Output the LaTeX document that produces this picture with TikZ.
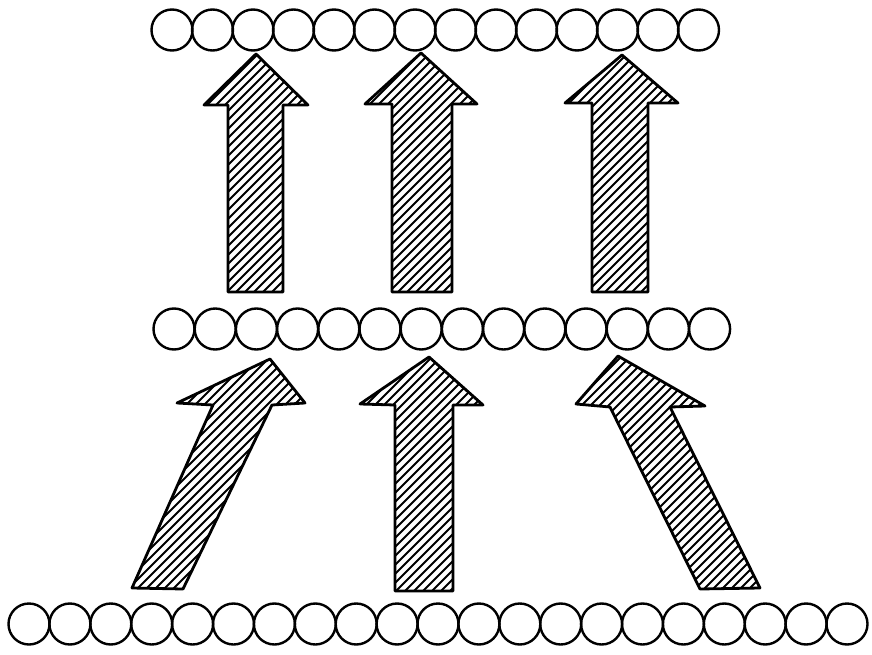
\documentclass[tikz,border=0pt]{standalone}
\tikzset{
  bead/.style={line width=2.4pt},
  outline/.style={line width=2.8pt, line join=round},
  hatchline/.style={line width=1.8pt},
}
% hatched arrow: clip, hatch, then outline
\newcommand\hatcharrow[1]{%
  \begin{scope}
    \clip #1;
    \foreach \c in {240,249,...,1370}
      \draw[hatchline] (\c,0) -- ++(-700,700);
  \end{scope}
  \draw[outline] #1;
}
\begin{document}
\begin{tikzpicture}[x=1pt,y=-1pt]
  \useasboundingbox (0,0) rectangle (872,655);
  % Rows of beads
  \foreach \i in {0,...,13}
    \draw[bead] (172+40.5*\i,30) circle[radius=20.5pt];
  \foreach \i in {0,...,13}
    \draw[bead] (174+41.2*\i,329) circle[radius=20.5pt];
  \foreach \i in {0,...,20}
    \draw[bead] (29+40.9*\i,624) circle[radius=20.5pt];
  % Upper arrows
  \hatcharrow{(256,54) -- (308,105) -- (283,105) -- (283,292) -- (228,292) -- (228,105) -- (204,105) -- cycle}
  \hatcharrow{(421,53) -- (477,104) -- (452,104) -- (452,292) -- (392,292) -- (392,104) -- (365,104) -- cycle}
  \hatcharrow{(622,55) -- (678,103) -- (648,103) -- (648,292) -- (592,292) -- (592,103) -- (565,103) -- cycle}
  % Lower arrows
  \hatcharrow{(270,359) -- (305,403) -- (272,405) -- (183,589) -- (132,588) -- (213,405) -- (177,403) -- cycle}
  \hatcharrow{(429,357) -- (483,405) -- (453,405) -- (453,591) -- (395,591) -- (395,405) -- (360,404) -- cycle}
  \hatcharrow{(618,356) -- (705,406) -- (670,407) -- (760,588) -- (700,589) -- (610,407) -- (576,404) -- cycle}
\end{tikzpicture}
\end{document}
